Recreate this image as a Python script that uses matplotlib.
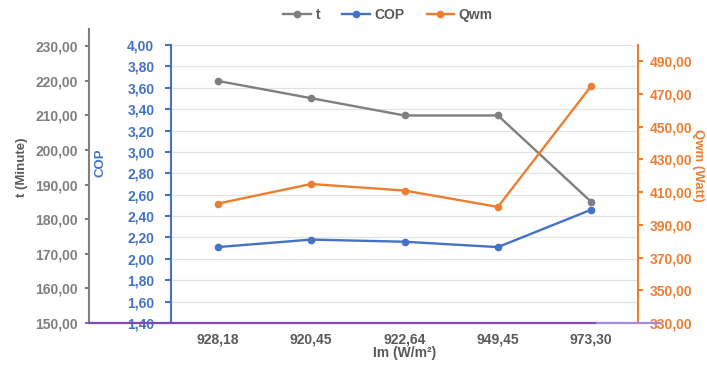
import matplotlib.pyplot as plt
from matplotlib.lines import Line2D
from matplotlib.ticker import FuncFormatter, MultipleLocator

plt.rcParams['font.family'] = ['Liberation Sans', 'DejaVu Sans']
plt.rcParams['font.weight'] = 'bold'

# measured irradiance (categories) and results per run
im_labels = ['928,18', '920,45', '922,64', '949,45', '973,30']
t_minute = [220.0, 215.0, 210.0, 210.0, 185.0]
cop = [2.11, 2.18, 2.16, 2.11, 2.46]
qwm_watt = [403.0, 415.0, 411.0, 401.0, 475.0]

GRAY = '#7f7f7f'
BLUE = '#4472c4'
ORANGE = '#ed7d31'
W, H = 707, 365

def comma(v, pos=None):
  return f'{v:.2f}'.replace('.', ',')

fig = plt.figure(figsize=(W / 100, H / 100), dpi=100)
x0, x1, yb, yt = 171, 638, 323, 45
ax = fig.add_axes([x0 / W, 1 - yb / H, (x1 - x0) / W, (yb - yt) / H])
ax_t = fig.add_axes([x0 / W, 1 - yb / H, (x1 - x0) / W, (yb - 29) / H])
ax_q = ax.twinx()

xs = list(range(len(im_labels)))
for a in (ax, ax_t, ax_q):
  a.set_xlim(-0.5, len(im_labels) - 0.5)

# COP axis (inner left) carries the gridlines
ax.set_ylim(1.4, 4.0)
ax.yaxis.set_major_locator(MultipleLocator(0.2))
ax.yaxis.set_major_formatter(FuncFormatter(comma))
ax.grid(axis='y', color='#e3e3e3', linewidth=0.9)
ax.set_axisbelow(True)
for s in ('top', 'right', 'bottom'):
  ax.spines[s].set_visible(False)
ax.spines['left'].set_color(BLUE)
ax.spines['left'].set_linewidth(1.5)
ax.tick_params(axis='y', colors=BLUE, labelsize=10, length=4, width=1.5, pad=8)
ax.set_xticks(xs)
ax.set_xticklabels(im_labels)
ax.tick_params(axis='x', length=0, pad=7, labelsize=10, labelcolor='#595959')
lc, = ax.plot(xs, cop, color=BLUE, lw=1.7, marker='o', ms=4.5, label='COP', zorder=3)

# t axis, pushed out to the far left
ax_t.patch.set_visible(False)
ax_t.set_ylim(150, 235)
ax_t.set_yticks(range(150, 231, 10))
ax_t.yaxis.set_major_formatter(FuncFormatter(comma))
for s in ('top', 'right', 'bottom'):
  ax_t.spines[s].set_visible(False)
ax_t.spines['left'].set_position(('outward', (x0 - 89) * 0.72))
ax_t.spines['left'].set_color(GRAY)
ax_t.spines['left'].set_linewidth(1.5)
ax_t.tick_params(axis='y', colors=GRAY, labelsize=10, length=3, width=1.5, pad=5)
ax_t.tick_params(axis='x', bottom=False, labelbottom=False)
lt, = ax_t.plot(xs, t_minute, color=GRAY, lw=1.7, marker='o', ms=4.5, label='t', zorder=3)

# Qwm axis on the right
ax_q.set_ylim(330, 500)
ax_q.set_yticks(range(330, 491, 20))
ax_q.yaxis.set_major_formatter(FuncFormatter(comma))
for s in ('top', 'left', 'bottom'):
  ax_q.spines[s].set_visible(False)
ax_q.spines['right'].set_color(ORANGE)
ax_q.spines['right'].set_linewidth(1.5)
ax_q.tick_params(axis='y', colors=ORANGE, labelsize=10, length=3.5, width=1.5, pad=5)
lq, = ax_q.plot(xs, qwm_watt, color=ORANGE, lw=1.7, marker='o', ms=4.5, label='Qwm', zorder=3)

# horizontal base line along the bottom
fig.add_artist(Line2D([89 / W, 597 / W], [1 - yb / H] * 2, color='#8048b8', lw=1.6))
fig.add_artist(Line2D([597 / W, 660 / W], [1 - yb / H] * 2, color='#a98ad8', lw=1.6))

fig.text(22 / W, 1 - 167 / H, 't (Minute)', rotation=90, ha='center', va='center',
         fontsize=9.5, color='#595959')
fig.text(100 / W, 1 - 163 / H, 'COP', rotation=90, ha='center', va='center',
         fontsize=9.5, color=BLUE)
fig.text(698 / W, 1 - 165 / H, 'Qwm (Watt)', rotation=270, ha='center', va='center',
         fontsize=9.5, color=ORANGE)
fig.text(405 / W, 1 - 353 / H, 'Im (W/m²)', ha='center', va='center',
         fontsize=10, color='#595959')

fig.legend(handles=[lt, lc, lq], loc='center', bbox_to_anchor=(388 / W, 1 - 15 / H),
           ncol=3, frameon=False, fontsize=10, handlelength=2.0, handletextpad=0.3,
           columnspacing=1.6, labelcolor='#595959')

fig.savefig('out.png', dpi=100)
